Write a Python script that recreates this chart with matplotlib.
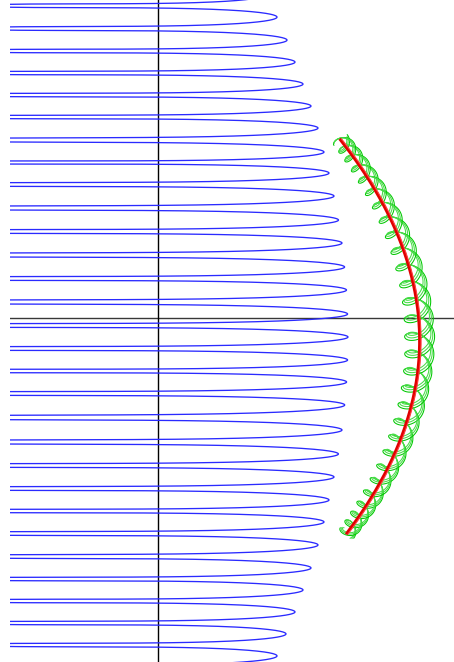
import numpy as np
import matplotlib
matplotlib.use("Agg")
import matplotlib.pyplot as plt

# ---- data (units: 1 = 100 px, origin at the crossing of the axes) ----
# blue helix: right-hand turning points (top to bottom)
blue_tip_y = [3.235, 3.01, 2.78, 2.56, 2.34, 2.12, 1.90, 1.66, 1.45, 1.22, 0.98,
              0.75, 0.51, 0.28, 0.04, -0.19, -0.42, -0.64, -0.87, -1.12, -1.36,
              -1.59, -1.82, -2.04, -2.27, -2.50, -2.72, -2.94, -3.16, -3.38, -3.60]
blue_tip_x = [1.08, 1.19, 1.29, 1.37, 1.45, 1.53, 1.60, 1.66, 1.71, 1.76, 1.805,
              1.84, 1.866, 1.885, 1.896, 1.90, 1.896, 1.886, 1.867, 1.84, 1.804,
              1.76, 1.71, 1.66, 1.60, 1.53, 1.45, 1.37, 1.28, 1.19, 1.09]
blue_axis_x = -0.31          # helix axis (left turning points fall off the plot)
blue_tilt = 0.036            # apparent opening of each loop
blue_tilt2 = 0.014

# red arc: points
red_x = [1.85, 2.02, 2.19, 2.34, 2.45, 2.55, 2.62, 2.60, 2.55, 2.45, 2.35, 2.22, 2.05, 1.85]
red_y = [1.78, 1.48, 1.25, 0.98, 0.65, 0.31, -0.02, -0.35, -0.82, -1.15, -1.42, -1.69, -1.95, -2.15]

# green helices wound around the red arc (phase offset, radius scale)
green_turns = 14
green_radius = [0.085, 0.105, 0.13, 0.15, 0.13, 0.105, 0.085]   # along the arc, top to bottom
green_strands = [(0.0, 1.00), (0.25, 0.88), (0.5, 0.76),
                 (np.pi, 1.00), (np.pi + 0.25, 0.88), (np.pi + 0.5, 0.76)]

fig = plt.figure(figsize=(4.54, 6.62), dpi=100)
ax = fig.add_axes([10 / 454, 0, 444 / 454, 1])
ax.set_xlim(-1.48, 2.96)
ax.set_ylim(-3.44, 3.18)
ax.axis("off")

ax.axhline(0, color="#383838", lw=1.0, zorder=1)
ax.axvline(0, color="black", lw=1.0, zorder=1)

# ---- blue helix ----
xs, ys = [], []
th = np.linspace(0, 2 * np.pi, 500, endpoint=False)
for k in range(len(blue_tip_y) - 1):
    R0 = blue_tip_x[k] - blue_axis_x
    R1 = blue_tip_x[k + 1] - blue_axis_x
    R = R0 + (R1 - R0) * th / (2 * np.pi)
    y = (blue_tip_y[k] + (blue_tip_y[k + 1] - blue_tip_y[k]) * th / (2 * np.pi)
         - blue_tilt * np.sin(th) - blue_tilt2 * np.sin(2 * th))
    xs.append(blue_axis_x + R * np.cos(th))
    ys.append(y)
ax.plot(np.concatenate(xs), np.concatenate(ys), color="#2a2aff", lw=0.95, zorder=2)

# ---- red arc (quadratic through read points) ----
coef = np.polyfit(red_y, red_x, 2)
y_top, y_bot = red_y[0], red_y[-1]
yc = (y_top + y_bot) / 2
h = (y_top - y_bot) / 2
phi0 = 1.2
t = np.linspace(-1, 1, 8000)
ry = yc - h * np.sin(phi0 * t) / np.sin(phi0)
rx = np.polyval(coef, ry)
dx = np.gradient(rx)
dy = np.gradient(ry)
nrm = np.hypot(dx, dy)
Tx, Ty = dx / nrm, dy / nrm
Nx, Ny = -Ty, Tx

rad = np.interp(t, np.linspace(-1, 1, len(green_radius)), green_radius)
psi = np.pi * green_turns * (t + 1)
beta = 0.75
for i, (ph, sc) in enumerate(green_strands):
    r = rad * sc
    c = np.cos(psi + ph)
    s = np.sin(psi + ph)
    gx = rx + r * c * Nx + beta * r * s * Tx
    gy = ry + r * c * Ny + beta * r * s * Ty
    col = "#00c800" if i % 3 == 0 else "#48dc48"
    ax.plot(gx, gy, color=col, lw=0.75, zorder=3)

ax.plot(rx, ry, color="#e00000", lw=2.2, zorder=4)
ax.plot(rx + 0.014 * Nx, ry + 0.014 * Ny, color="#ff4040", lw=0.8, zorder=4)

fig.savefig("out.png", dpi=100)
